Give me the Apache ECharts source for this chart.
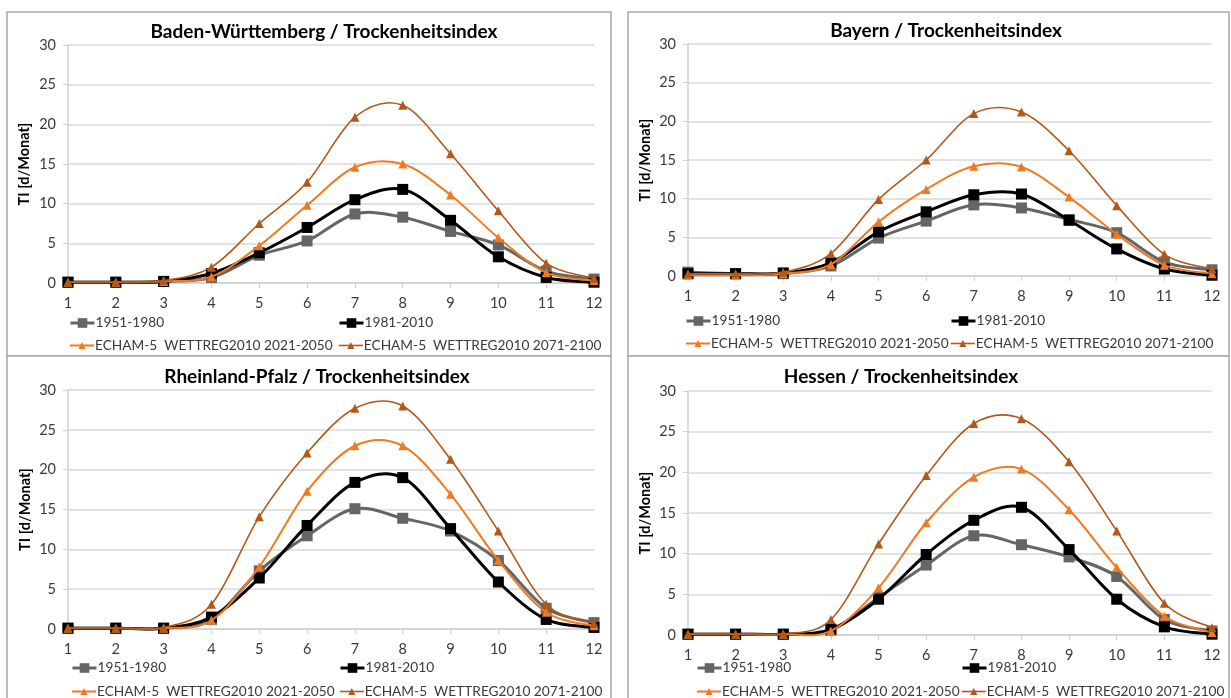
<!DOCTYPE html>
<html>
<head>
<meta charset="utf-8">
<script src="https://cdn.jsdelivr.net/npm/echarts@6/dist/echarts.min.js"></script>
<style>
  html, body { margin: 0; padding: 0; background: #ffffff; }
  #chart { width: 1231px; height: 698px; }
</style>
</head>
<body>
<div id="chart"></div>
<script>
// Monthly drought index (Trockenheitsindex, days per month) for four German states
const months = ['1', '2', '3', '4', '5', '6', '7', '8', '9', '10', '11', '12'];
const yTicks = [0, 5, 10, 15, 20, 25, 30];
const seriesNames = [
  '1951-1980',
  '1981-2010',
  'ECHAM-5  WETTREG2010 2021-2050',
  'ECHAM-5  WETTREG2010 2071-2100'
];
const panelTitles = [
  'Baden-Württemberg / Trockenheitsindex',
  'Bayern / Trockenheitsindex',
  'Rheinland-Pfalz / Trockenheitsindex',
  'Hessen / Trockenheitsindex'
];
const yAxisName = 'TI [d/Monat]';

// Baden-Württemberg
const bw1951 = [0.1, 0.1, 0.2, 0.7, 3.5, 5.3, 8.7, 8.3, 6.5, 4.8, 1.5, 0.5];
const bw1981 = [0.1, 0.1, 0.2, 1.2, 3.8, 7.0, 10.5, 11.8, 7.9, 3.3, 0.7, 0.1];
const bw2021 = [0.1, 0.1, 0.2, 0.8, 4.7, 9.8, 14.6, 15.0, 11.1, 5.7, 1.3, 0.3];
const bw2071 = [0.1, 0.1, 0.3, 2.0, 7.5, 12.7, 20.9, 22.4, 16.3, 9.1, 2.5, 0.6];

// Bayern
const by1951 = [0.5, 0.3, 0.3, 1.3, 4.9, 7.1, 9.2, 8.8, 7.3, 5.6, 1.8, 0.8];
const by1981 = [0.3, 0.3, 0.4, 1.7, 5.7, 8.3, 10.5, 10.6, 7.2, 3.5, 0.9, 0.1];
const by2021 = [0.1, 0.1, 0.3, 1.5, 7.0, 11.2, 14.2, 14.1, 10.2, 5.4, 1.4, 0.3];
const by2071 = [0.3, 0.3, 0.5, 2.9, 9.9, 15.0, 21.0, 21.2, 16.2, 9.1, 2.8, 0.9];

// Rheinland-Pfalz
const rp1951 = [0.1, 0.1, 0.1, 1.2, 7.3, 11.7, 15.1, 13.9, 12.3, 8.6, 2.6, 0.8];
const rp1981 = [0.1, 0.1, 0.1, 1.5, 6.4, 13.0, 18.4, 19.0, 12.6, 5.9, 1.2, 0.2];
const rp2021 = [0.1, 0.1, 0.1, 1.1, 7.8, 17.3, 23.0, 23.0, 16.9, 8.6, 2.1, 0.4];
const rp2071 = [0.1, 0.1, 0.2, 3.1, 14.1, 22.1, 27.7, 28.0, 21.3, 12.3, 3.1, 0.7];

// Hessen
const he1951 = [0.1, 0.1, 0.1, 0.6, 4.6, 8.6, 12.2, 11.1, 9.6, 7.2, 1.9, 0.5];
const he1981 = [0.1, 0.1, 0.1, 0.7, 4.4, 9.9, 14.1, 15.7, 10.5, 4.4, 1.0, 0.1];
const he2021 = [0.1, 0.1, 0.1, 0.5, 5.8, 13.8, 19.4, 20.4, 15.4, 8.3, 2.3, 0.3];
const he2071 = [0.1, 0.1, 0.1, 1.9, 11.2, 19.6, 26.0, 26.6, 21.3, 12.8, 3.9, 0.9];

const panelData = [
  [bw1951, bw1981, bw2021, bw2071],
  [by1951, by1981, by2021, by2071],
  [rp1951, rp1981, rp2021, rp2071],
  [he1951, he1981, he2021, he2071]
];

// ---- presentation ----
const FONT = 'Lato, "Open Sans", sans-serif';
const styles = [
  { color: '#656565', width: 3, symbol: 'rect', size: 11, legendH: 12 },
  { color: '#000000', width: 3, symbol: 'rect', size: 11, legendH: 12 },
  { color: '#EE7B22', width: 2, symbol: 'triangle', size: 9, legendH: 9 },
  { color: '#B25818', width: 1.6, symbol: 'triangle', size: 9, legendH: 9 }
];

// plot areas: x of months 1 and 12, y of values 30 and 0
const plots = [
  { x0: 68, x1: 594, y0: 45, y1: 283, yName: 25, title: [324, 32], legX: [69, 338], legY: [323, 344], frame: [7, 12, 604, 344] },
  { x0: 688, x1: 1212, y0: 44, y1: 276, yName: 646, title: [946, 31], legX: [685, 950], legY: [321, 342], frame: [628, 12, 601, 344] },
  { x0: 68, x1: 594, y0: 390, y1: 629, yName: 26, title: [317, 377], legX: [71, 339], legY: [668, 690], frame: [7, 356, 604, 350] },
  { x0: 688, x1: 1212, y0: 391, y1: 635, yName: 646, title: [901, 377], legX: [696, 961], legY: [668, 690], frame: [628, 356, 601, 350] }
];

// Smoothed segment between point j and j+1 (cardinal spline, like office-chart smoothing)
function smoothSegment(vals, color, width) {
  return function (params, api) {
    const j = params.dataIndex;
    if (j >= vals.length - 1) return null;
    const n = vals.length;
    const pt = (k) => {
      const c = Math.max(0, Math.min(n - 1, k));
      return api.coord([c, vals[c]]);
    };
    const p0 = pt(j - 1), p1 = pt(j), p2 = pt(j + 1), p3 = pt(j + 2);
    const t = 1 / 6;
    return {
      type: 'bezierCurve',
      silent: true,
      shape: {
        x1: p1[0], y1: p1[1], x2: p2[0], y2: p2[1],
        cpx1: p1[0] + (p2[0] - p0[0]) * t, cpy1: p1[1] + (p2[1] - p0[1]) * t,
        cpx2: p2[0] - (p3[0] - p1[0]) * t, cpy2: p2[1] - (p3[1] - p1[1]) * t
      },
      style: { stroke: color, lineWidth: width, fill: null, lineCap: 'round' }
    };
  };
}

const W = 1231, H = 698;
const grids = [], xAxes = [], yAxes = [], series = [], legends = [], graphics = [];

plots.forEach((p, i) => {
  grids.push({ left: p.x0, right: W - p.x1, top: p.y0, bottom: H - p.y1, containLabel: false });
  xAxes.push({
    type: 'category', gridIndex: i, data: months, boundaryGap: false,
    axisLine: { show: true, lineStyle: { color: '#d0d0d0', width: 1.5 } },
    axisTick: { show: true, length: 5, lineStyle: { color: '#d0d0d0' } },
    axisLabel: { color: '#3a3a3a', fontSize: 14.5, fontFamily: FONT, margin: 13 },
    splitLine: { show: false }
  });
  yAxes.push({
    type: 'value', gridIndex: i, min: yTicks[0], max: yTicks[yTicks.length - 1], interval: 5,
    name: yAxisName, nameLocation: 'middle', nameGap: p.x0 - p.yName - 7,
    nameTextStyle: { color: '#000000', fontSize: 14.5, fontWeight: 'bold', fontFamily: FONT },
    axisLine: { show: true, lineStyle: { color: '#d0d0d0', width: 1.5 } },
    axisTick: { show: true, length: 5, lineStyle: { color: '#d0d0d0' } },
    axisLabel: { color: '#3a3a3a', fontSize: 14.5, fontFamily: FONT, margin: 12 },
    splitLine: { show: true, lineStyle: { color: '#d9d9d9', width: 1.5 } }
  });
  panelData[i].forEach((vals, k) => {
    const s = styles[k];
    // smoothed curve
    series.push({
      type: 'custom', xAxisIndex: i, yAxisIndex: i,
      data: vals.map((v, j) => [j, v]),
      encode: { x: 0, y: 1 },
      renderItem: smoothSegment(vals, s.color, s.width),
      z: 2 + k * 2, silent: true
    });
    // markers (and legend entry)
    series.push({
      type: 'line', name: seriesNames[k], xAxisIndex: i, yAxisIndex: i,
      data: vals,
      symbol: s.symbol, symbolSize: s.size, showSymbol: true,
      lineStyle: { color: s.color, width: s.width, opacity: 0 },
      itemStyle: { color: s.color },
      z: 3 + k * 2
    });
    legends.push({
      data: [seriesNames[k]],
      left: p.legX[k % 2],
      top: p.legY[Math.floor(k / 2)] - s.legendH / 2 - 1,
      itemWidth: 24, itemHeight: s.legendH, itemGap: 0, padding: 0,
      selectedMode: false,
      lineStyle: { color: s.color, width: s.width, opacity: 1 },
      textStyle: { color: '#3a3a3a', fontSize: 13.7, fontFamily: FONT, padding: [0, 0, 0, -4] }
    });
  });
  // panel frame
  graphics.push({
    type: 'rect', silent: true, z: -10,
    shape: { x: p.frame[0], y: p.frame[1], width: p.frame[2], height: p.frame[3] },
    style: { fill: '#ffffff', stroke: '#a8a8a8', lineWidth: 1.5 }
  });
  // panel title
  graphics.push({
    type: 'text', silent: true, z: 10,
    x: p.title[0], y: p.title[1],
    style: {
      text: panelTitles[i], fill: '#000000', font: 'bold 19px ' + FONT,
      textAlign: 'center', textVerticalAlign: 'middle'
    }
  });
});

const chart = echarts.init(document.getElementById('chart'), null, { renderer: 'canvas' });
chart.setOption({
  animation: false,
  backgroundColor: '#ffffff',
  grid: grids,
  xAxis: xAxes,
  yAxis: yAxes,
  legend: legends,
  graphic: graphics,
  series: series
});
</script>
</body>
</html>
